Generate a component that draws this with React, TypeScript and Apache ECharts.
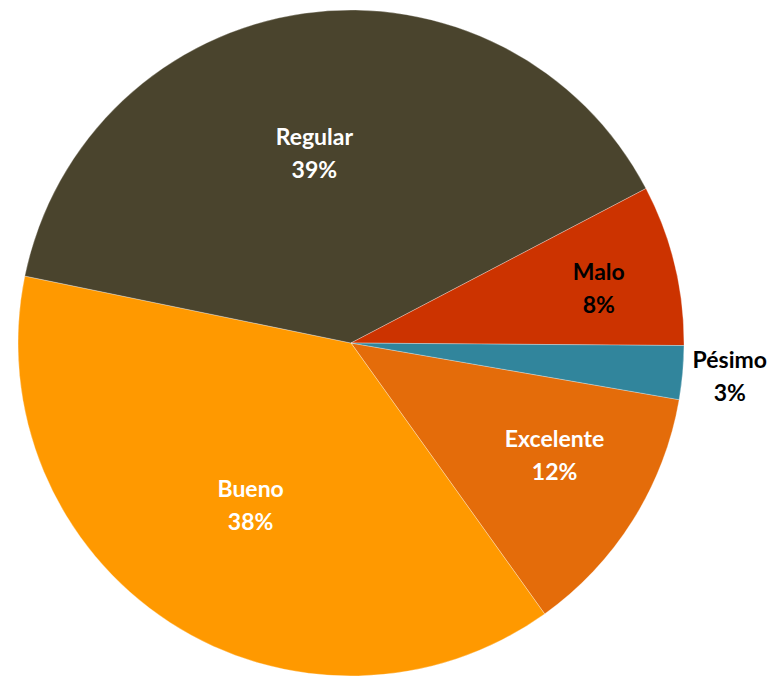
import React, { useEffect, useRef } from "react";
import * as echarts from "echarts";

const categories = ["Excelente", "Bueno", "Regular", "Malo", "Pésimo"];
const values = [12.4, 38.1, 39.1, 7.8, 2.6];
const colors = ["#E46C0A", "#FF9900", "#4A442D", "#CC3300", "#31859C"];
const labelColors = ["#FFFFFF", "#FFFFFF", "#FFFFFF", "#000000", "#000000"];
const labelOffsets: [number, number][] = [
  [60, 21],
  [-8, 19],
  [-13, -23],
  [83, -16],
  [210, 17],
];

export default function App() {
  const ref = useRef<HTMLDivElement>(null);
  useEffect(() => {
    if (!ref.current) return;
    const chart = echarts.init(ref.current, null, { renderer: "svg" });
    chart.setOption({
      animation: false,
      backgroundColor: "#FFFFFF",
      series: [
        {
          type: "pie",
          center: [351, 343],
          radius: 333,
          startAngle: -9.8,
          clockwise: true,
          avoidLabelOverlap: false,
          itemStyle: { borderColor: "rgba(255,255,255,0.6)", borderWidth: 0.5 },
          label: {
            show: true,
            position: "inside",
            formatter: (p: any) => `${p.name}\n${Math.round(p.percent)}%`,
            fontFamily: "Lato, 'Open Sans', sans-serif",
            fontWeight: "bold",
            fontSize: 23,
            lineHeight: 33,
            align: "center",
          },
          labelLine: { show: false },
          emphasis: { disabled: true },
          data: categories.map((name, i) => ({
            name,
            value: values[i],
            itemStyle: { color: colors[i] },
            label: { color: labelColors[i], offset: labelOffsets[i] },
          })),
        },
      ],
    });
    return () => chart.dispose();
  }, []);
  return (
    <div
      ref={ref}
      style={{ position: "fixed", left: 0, top: 0, width: 776, height: 676 }}
    />
  );
}
